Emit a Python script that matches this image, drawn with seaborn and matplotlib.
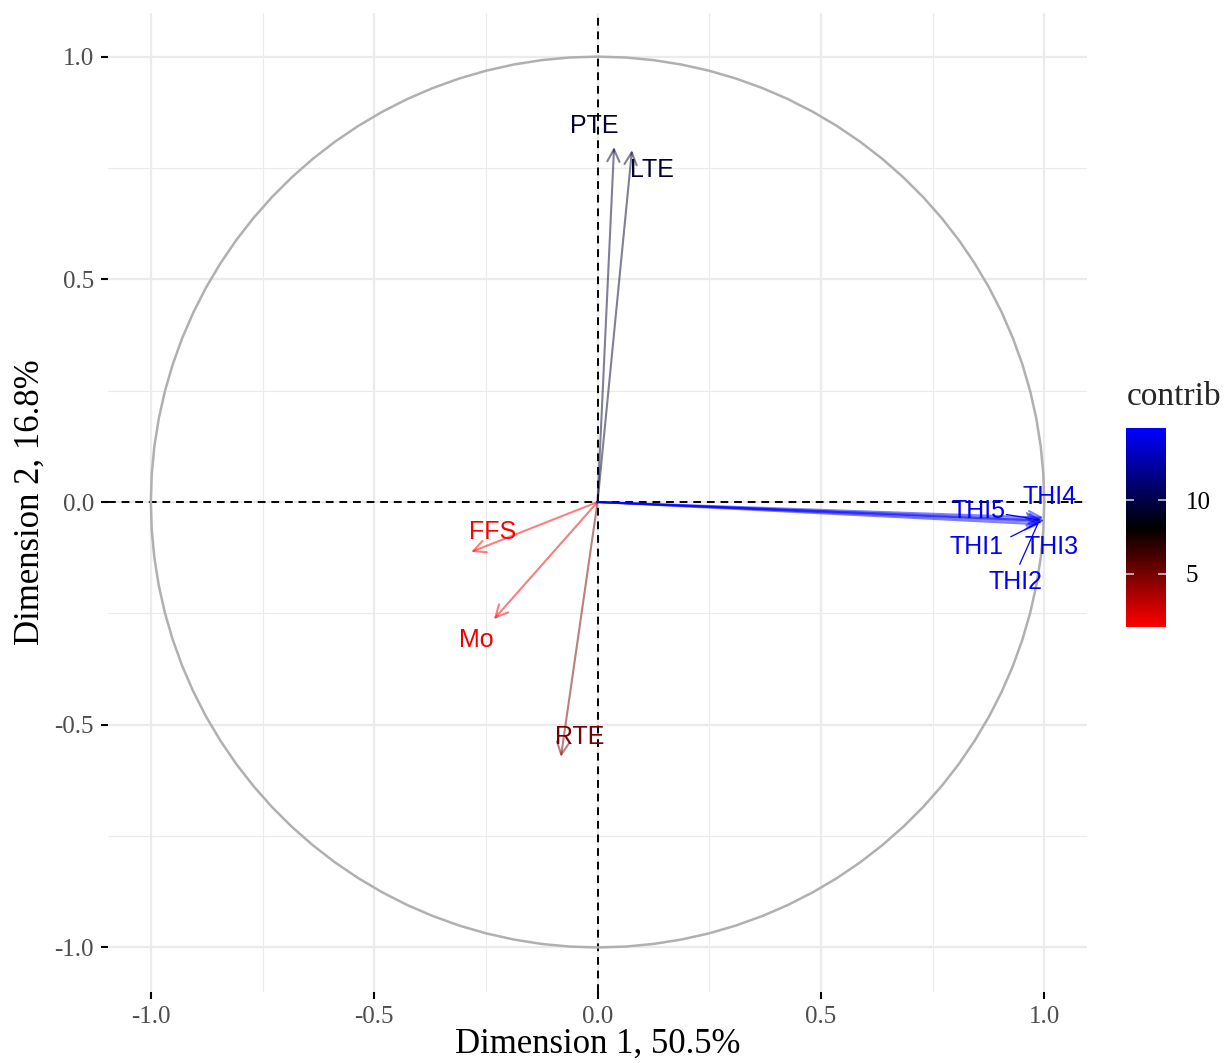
import numpy as np
import pandas as pd
import seaborn as sns
import matplotlib
matplotlib.use("Agg")
import matplotlib.pyplot as plt
from matplotlib.colors import LinearSegmentedColormap, Normalize
from matplotlib.cm import ScalarMappable

# variable coordinates on dim 1 / dim 2 and their contribution
variables = ["PTE", "LTE", "FFS", "Mo", "RTE", "THI1", "THI2", "THI3", "THI4", "THI5"]
dim1 = [0.037, 0.077, -0.283, -0.232, -0.082, 0.995, 0.990, 1.000, 0.998, 0.993]
dim2 = [0.797, 0.790, -0.112, -0.263, -0.572, -0.045, -0.050, -0.042, -0.035, -0.040]
contrib = [9.45, 9.36, 1.38, 1.83, 4.96, 14.75, 14.62, 14.86, 14.82, 14.70]

# label placement (repelled text positions)
label_x = [-0.008, 0.122, -0.234, -0.272, -0.039, 0.848, 0.935, 1.016, 1.013, 0.852]
label_y = [0.844, 0.745, -0.067, -0.310, -0.527, -0.101, -0.180, -0.101, 0.011, -0.020]

df = pd.DataFrame({"var": variables, "d1": dim1, "d2": dim2, "contrib": contrib,
                   "lx": label_x, "ly": label_y})

sns.set_style("white")
plt.rcParams["font.family"] = ["Liberation Serif", "DejaVu Serif"]
plt.rcParams["axes.unicode_minus"] = False

cmap = LinearSegmentedColormap.from_list("rbb", ["#FF0000", "#000000", "#0000FF"])
norm = Normalize(vmin=min(contrib), vmax=max(contrib))

fig = plt.figure(figsize=(12.27, 10.63), dpi=100)
ax = fig.add_axes([0.088, 0.0668, 0.798, 0.921])

# grid like theme_minimal
ax.set_xticks([-1.0, -0.5, 0.0, 0.5, 1.0])
ax.set_yticks([-1.0, -0.5, 0.0, 0.5, 1.0])
ax.set_xticks([-0.75, -0.25, 0.25, 0.75], minor=True)
ax.set_yticks([-0.75, -0.25, 0.25, 0.75], minor=True)
ax.grid(True, which="major", color="#EBEBEB", lw=1.6)
ax.grid(True, which="minor", color="#EBEBEB", lw=0.8)
ax.set_axisbelow(True)
for s in ax.spines.values():
    s.set_visible(False)

# correlation circle
theta = np.linspace(0, 2 * np.pi, 101)
circ = pd.DataFrame({"x": np.cos(theta), "y": np.sin(theta)})
sns.lineplot(data=circ, x="x", y="y", sort=False, estimator=None, color="#B0B0B0",
             lw=1.8, ax=ax)

ax.axhline(0, color="black", ls=(0, (4, 3)), lw=1.4, zorder=1)
ax.axvline(0, color="black", ls=(0, (4, 3)), lw=1.4, zorder=1)

# arrows
for _, r in df.iterrows():
    c = cmap(norm(r.contrib))
    ax.annotate("", xy=(r.d1, r.d2), xytext=(0, 0),
                arrowprops=dict(arrowstyle="->", color=c, alpha=0.5, lw=1.5,
                                mutation_scale=22, shrinkA=0, shrinkB=0), zorder=3)

# repel segments for crowded THI labels
for v, sx, sy in [("THI5", 0.915, -0.028), ("THI1", 0.925, -0.078), ("THI2", 0.945, -0.14)]:
    r = df[df["var"] == v].iloc[0]
    ax.plot([sx, r.d1 - 0.005], [sy, r.d2], color=cmap(norm(r.contrib)), lw=0.9, zorder=3)

for _, r in df.iterrows():
    ax.text(r.lx, r.ly, r["var"], color=cmap(norm(r.contrib)), fontsize=18,
            family=["Liberation Sans", "DejaVu Sans"], ha="center", va="center", zorder=4)

ax.set_xlim(-1.096, 1.096)
ax.set_ylim(-1.1, 1.098)
ax.tick_params(which="major", bottom=True, left=True, length=5, width=1.5,
               color="black", pad=5, labelsize=18, labelcolor="#4D4D4D")
ax.tick_params(which="minor", length=0)
ax.set_xticks([-1.0, -0.5, 0.0, 0.5, 1.0])
ax.set_yticks([-1.0, -0.5, 0.0, 0.5, 1.0])
ax.set_xticklabels(["-1.0", "-0.5", "0.0", "0.5", "1.0"])
ax.set_yticklabels(["-1.0", "-0.5", "0.0", "0.5", "1.0"])
ax.set_xlabel("Dimension 1, 50.5%", fontsize=25, color="black", labelpad=0)
ax.set_ylabel("Dimension 2, 16.8%", fontsize=25, color="black", labelpad=6)

# colourbar
cax = fig.add_axes([0.9177, 0.410, 0.0326, 0.187])
cb = fig.colorbar(ScalarMappable(norm=norm, cmap=cmap), cax=cax)
cb.outline.set_visible(False)
cb.set_ticks([5, 10])
cb.ax.tick_params(length=0, pad=14, labelsize=18, labelcolor="black")
for t in [5, 10]:
    cax.hlines(t, 0, 0.2, color="#C8C8C8", lw=1.2)
    cax.hlines(t, 0.8, 1, color="#C8C8C8", lw=1.2)
fig.text(0.9185, 0.627, "contrib", fontsize=24, ha="left", va="center")

fig.savefig("out.png", dpi=100)
